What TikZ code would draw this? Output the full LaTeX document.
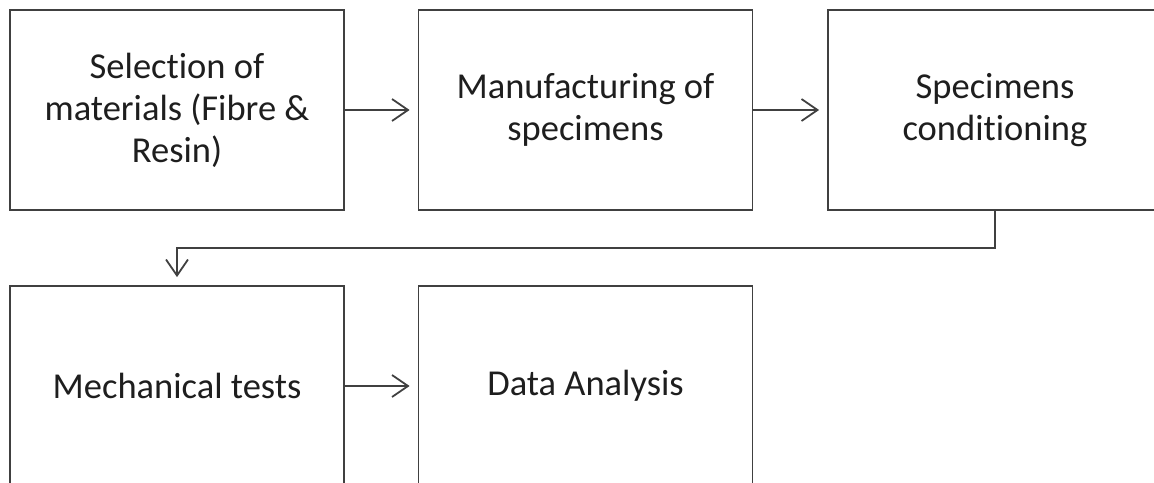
\documentclass[tikz,border=0pt]{standalone}
\usepackage{fontspec}
\setmainfont{Carlito}[RawFeature=-liga]
\usetikzlibrary{arrows.meta}
\definecolor{linec}{RGB}{64,64,64}
\definecolor{textc}{RGB}{30,30,30}
\begin{document}
\begin{tikzpicture}[x=1pt,y=-1pt,
  stepbox/.style={draw=linec, line width=1.8pt, rectangle, minimum width=334pt, minimum height=200pt,
    align=center, text=textc, font=\fontsize{36.5}{42}\selectfont, inner sep=0pt},
  flow/.style={draw=linec, line width=1.8pt, -{Straight Barb[length=16pt,width=22pt,line width=1.8pt]}, shorten >=8pt}]
\useasboundingbox (0,0) rectangle (1154,482);
\clip (0,0) rectangle (1154,482);
\node[stepbox] (b1) at (177,110) {Selection of\\materials (Fibre \&\\Resin)};
\node[stepbox] (b2) at (585.5,110) {Manufacturing of\\specimens};
\node[stepbox] (b3) at (995,110) {Specimens\\conditioning};
\node[stepbox] (b4) at (177,386) {Mechanical tests};
\node[stepbox] (b5) at (585.5,386) {Data Analysis};
\coordinate (k) at (995,248);
\draw[flow] (b1.east) -- (b2.west);
\draw[flow] (b2.east) -- (b3.west);
\draw[flow] (b4.east) -- (b5.west);
\draw[flow] (b3.south) -- (b3.south |- k) -| (b4.north);
\end{tikzpicture}
\end{document}
